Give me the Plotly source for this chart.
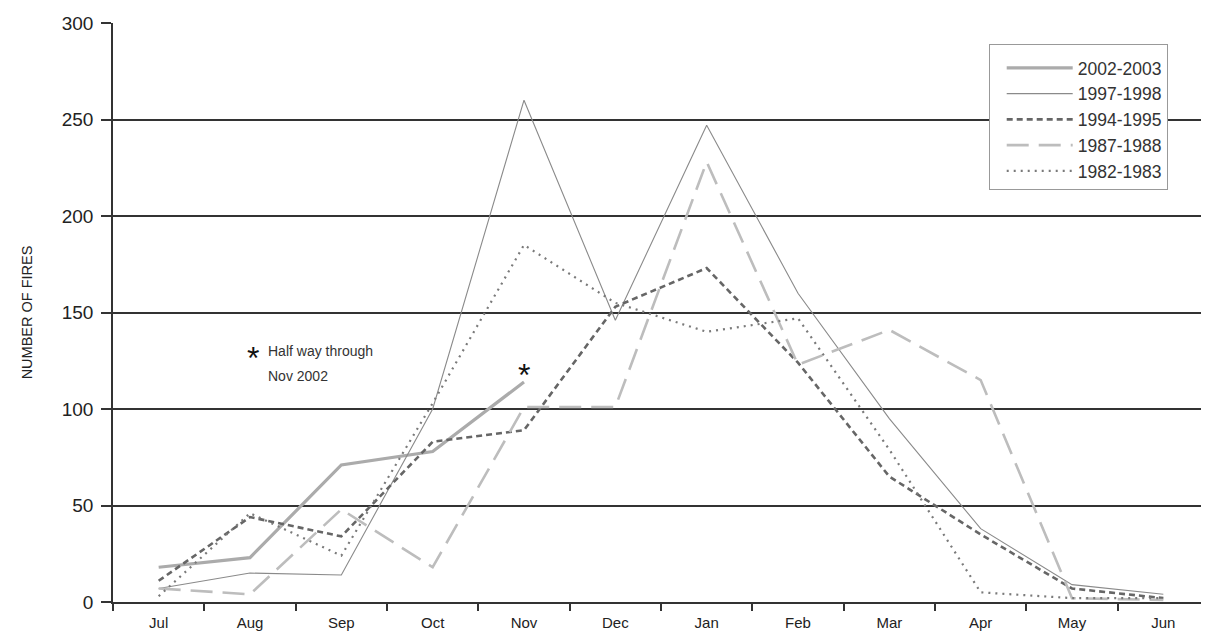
import plotly.graph_objects as go

months = ["Jul", "Aug", "Sep", "Oct", "Nov", "Dec", "Jan", "Feb", "Mar", "Apr", "May", "Jun"]

s2002 = [18, 23, 71, 78, 114]
s1997 = [7, 15, 14, 100, 260, 146, 247, 160, 95, 38, 9, 4]
s1994 = [11, 44, 34, 83, 89, 153, 173, 124, 65, 35, 7, 2]
s1987 = [7, 4, 48, 18, 101, 101, 228, 123, 141, 115, 2, 1]
s1982 = [3, 46, 24, 103, 185, 155, 140, 147, 79, 5, 2, 2]

series = [
    ("2002-2003", s2002, dict(color="#ababab", width=3.2, dash="solid")),
    ("1997-1998", s1997, dict(color="#8a8a8a", width=1.1, dash="solid")),
    ("1994-1995", s1994, dict(color="#666666", width=2.6, dash="6px,4px")),
    ("1987-1988", s1987, dict(color="#bdbdbd", width=2.6, dash="22px,10px")),
    ("1982-1983", s1982, dict(color="#7a7a7a", width=2.2, dash="2px,5px")),
]

fig = go.Figure()
for i, (name, vals, line) in enumerate(series):
    fig.add_trace(go.Scatter(
        x=months[:len(vals)], y=vals, name=name, mode="lines", line=line,
    ))

FONT = "Liberation Sans, Arial, sans-serif"

fig.update_layout(
    width=1201, height=626,
    margin=dict(l=105, r=0, t=15, b=32),
    plot_bgcolor="white", paper_bgcolor="white",
    font=dict(family=FONT, size=14, color="#222"),
    showlegend=True,
    legend=dict(
        x=0.799, y=0.964, xanchor="left", yanchor="top",
        bgcolor="white", bordercolor="#999999", borderwidth=1,
        font=dict(family=FONT, size=17.5, color="#333"),
        itemwidth=66, indentation=12, tracegroupgap=0,
        title=dict(text=" ", font=dict(size=4)),
    ),
    xaxis=dict(
        type="category", categoryorder="array", categoryarray=months,
        range=[-0.5, 11.5], tickson="boundaries",
        ticks="outside", ticklen=7, tickcolor="#333", tickwidth=1.5,
        showline=True, linecolor="#333", linewidth=1.5,
        showgrid=False, tickfont=dict(size=15, color="#222"),
        ticklabelstandoff=6, fixedrange=True, automargin=False,
    ),
    yaxis=dict(
        range=[0, 300], tickvals=[0, 50, 100, 150, 200, 250, 300],
        showgrid=True, gridcolor="#333", gridwidth=1.5,
        showline=True, linecolor="#333", linewidth=1.5,
        ticks="outside", ticklen=10, tickcolor="#333", tickwidth=1.5,
        ticklabelstandoff=4,
        zeroline=False, tickfont=dict(size=19, color="#222"),
        title=dict(text="NUMBER OF FIRES", font=dict(size=14.5, color="#222"), standoff=26),
        automargin=True,
    ),
)

fig.add_annotation(x=1.03, y=130, xref="x", yref="y", text="*", showarrow=False,
                   font=dict(size=32, color="#111"), yanchor="middle", xanchor="center", yshift=-7)
fig.add_annotation(x=1.18, y=130, xref="x", yref="y", text="Half way through",
                   showarrow=False, align="left", xanchor="left", yanchor="middle",
                   font=dict(size=14, color="#333"))
fig.add_annotation(x=1.18, y=117, xref="x", yref="y", text="Nov 2002",
                   showarrow=False, align="left", xanchor="left", yanchor="middle",
                   font=dict(size=14, color="#333"))
fig.add_annotation(x="Nov", y=121, xref="x", yref="y", text="*", showarrow=False,
                   font=dict(size=32, color="#111"), yanchor="middle", xanchor="center", yshift=-7)

fig.write_html("out.html")
